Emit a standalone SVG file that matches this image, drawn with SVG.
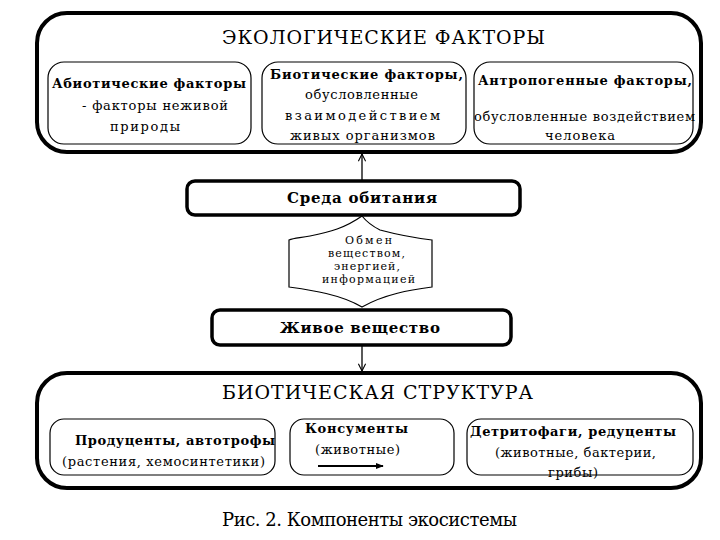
<svg xmlns="http://www.w3.org/2000/svg" width="720" height="540" viewBox="0 0 720 540">
<defs>
<style>
.outer{fill:none;stroke:#000;stroke-width:4}
.inner{fill:none;stroke:#000;stroke-width:1.2}
.mid{fill:#fff;stroke:#000;stroke-width:3.5}
text{font-family:"DejaVu Serif","Liberation Serif",serif;fill:#000}
.ttl{font-size:19px}
.b{font-size:13px;font-weight:bold}
.r{font-size:13px}
.bb{font-size:15px;font-weight:bold}
.s{font-size:11px}
.line{fill:none;stroke:#000;stroke-width:1.3}
</style>
<marker id="open" viewBox="0 0 10 10" refX="9" refY="5" markerWidth="9" markerHeight="9" orient="auto" markerUnits="userSpaceOnUse">
<path d="M1,1 L9,5 L1,9" fill="none" stroke="#000" stroke-width="1.2"/>
</marker>
<marker id="solid" viewBox="0 0 10 10" refX="9" refY="5" markerWidth="8" markerHeight="8" orient="auto" markerUnits="userSpaceOnUse">
<path d="M0,1 L10,5 L0,9 Z" fill="#000"/>
</marker>
</defs>
<rect width="720" height="540" fill="#fff"/>

<g id="connectors">
<line class="line" x1="362" y1="181" x2="362" y2="154" marker-end="url(#open)"/>
<line class="line" x1="362" y1="345" x2="362" y2="371" marker-end="url(#open)"/>
</g>

<g id="eco-factors">
<rect class="outer" x="37" y="13" width="664" height="139" rx="30"/>
<text class="ttl" x="222" y="44" textLength="323" lengthAdjust="spacing">ЭКОЛОГИЧЕСКИЕ   ФАКТОРЫ</text>
</g>
<g id="abiotic">
<rect class="inner" x="48" y="62" width="203" height="82" rx="16"/>
<text class="b" x="52" y="88" textLength="194" lengthAdjust="spacing">Абиотические факторы</text>
<text class="r" x="82" y="110" textLength="146" lengthAdjust="spacing">- факторы неживой</text>
<text class="r" x="110" y="131" textLength="70" lengthAdjust="spacing">природы</text>
</g>
<g id="biotic">
<rect class="inner" x="262" y="62" width="204" height="82" rx="16"/>
<text class="b" x="270" y="79" textLength="193" lengthAdjust="spacing">Биотические факторы,</text>
<text class="r" x="305" y="99" textLength="113" lengthAdjust="spacing">обусловленные</text>
<text class="r" x="285" y="120" textLength="155" lengthAdjust="spacing">взаимодействием</text>
<text class="r" x="290" y="140" textLength="145" lengthAdjust="spacing">живых организмов</text>
</g>
<g id="anthropogenic">
<rect class="inner" x="474" y="62" width="219" height="82" rx="16"/>
<text class="b" x="478" y="85" textLength="214" lengthAdjust="spacing">Антропогенные факторы,</text>
<text class="r" x="474" y="121" textLength="221" lengthAdjust="spacing">обусловленные воздействием</text>
<text class="r" x="545" y="140" textLength="70" lengthAdjust="spacing">человека</text>
</g>

<g id="habitat">
<rect class="mid" x="187" y="181" width="333" height="34" rx="8"/>
<text class="bb" x="287" y="203" textLength="150" lengthAdjust="spacing">Среда обитания</text>
</g>

<g id="exchange">
<path class="inner" d="M362,216 C345,228 330,232 310,236 C300,238 294,238 289,240 L289,287 C310,290 340,294 362,307 C385,294 410,290 432,287 L432,240 C415,238 395,234 380,230 C372,226 366,221 362,216 Z"/>
<text class="s" x="345" y="244" textLength="47" lengthAdjust="spacing">Обмен</text>
<text class="s" x="328" y="257" textLength="77" lengthAdjust="spacing">веществом,</text>
<text class="s" x="334" y="270" textLength="66" lengthAdjust="spacing">энергией,</text>
<text class="s" x="322" y="283" textLength="93" lengthAdjust="spacing">информацией</text>
</g>

<g id="living-matter">
<rect class="mid" x="212" y="310" width="299" height="35" rx="8"/>
<text class="bb" x="280" y="333" textLength="160" lengthAdjust="spacing">Живое вещество</text>
</g>

<g id="biotic-structure">
<rect class="outer" x="37" y="373" width="664" height="115" rx="30"/>
<text class="ttl" x="222" y="399" textLength="311" lengthAdjust="spacing">БИОТИЧЕСКАЯ  СТРУКТУРА</text>
</g>
<g id="producers">
<rect class="inner" x="50" y="419" width="225" height="56" rx="14"/>
<text class="b" x="75" y="445" textLength="200" lengthAdjust="spacing">Продуценты, автотрофы</text>
<text class="r" x="62" y="466" textLength="203" lengthAdjust="spacing">(растения, хемосинтетики)</text>
</g>
<g id="consumers">
<rect class="inner" x="290" y="419" width="164" height="56" rx="14"/>
<text class="b" x="305" y="433" textLength="103" lengthAdjust="spacing">Консументы</text>
<text class="r" x="315" y="454" textLength="85" lengthAdjust="spacing">(животные)</text>
<line x1="318" y1="466" x2="383" y2="466" stroke="#000" stroke-width="2" marker-end="url(#solid)"/>
</g>
<g id="decomposers">
<rect class="inner" x="467" y="419" width="226" height="56" rx="14"/>
<text class="b" x="470" y="436" textLength="206" lengthAdjust="spacing">Детритофаги, редуценты</text>
<text class="r" x="495" y="457" textLength="161" lengthAdjust="spacing">(животные, бактерии,</text>
<text class="r" x="548" y="477" textLength="50" lengthAdjust="spacing">грибы)</text>
</g>

<text x="222" y="526" style="font-size:18px" textLength="295" lengthAdjust="spacing">Рис. 2.  Компоненты экосистемы</text>
</svg>
